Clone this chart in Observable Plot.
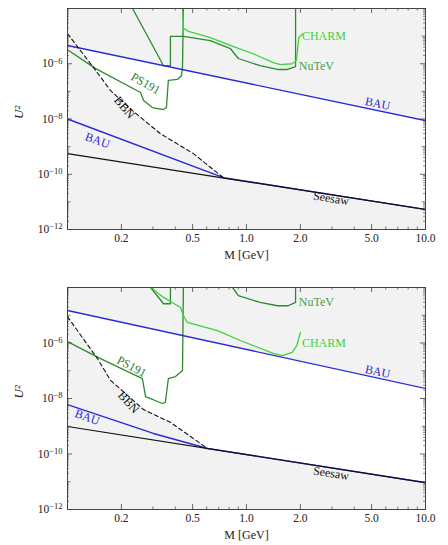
<!DOCTYPE html>
<html>
<head>
<meta charset="utf-8">
<script src="https://cdn.jsdelivr.net/npm/d3@7"></script>
<script src="https://cdn.jsdelivr.net/npm/@observablehq/plot@0.6"></script>
<style>
  html, body { margin: 0; padding: 0; background: white; }
  #chart svg { display: block; font-family: "Liberation Serif", "DejaVu Serif", serif; }
  #chart svg text { font-family: "Liberation Serif", "DejaVu Serif", serif; }
</style>
</head>
<body>
<div id="chart"></div>
<script>
// ---------- Panel A (top) ----------
const A_bauUp_M = [0.1, 10];
const A_bauUp_U = [4.6e-6, 8.7e-9];
const A_bauLo_M = [0.1, 0.743, 10];
const A_bauLo_U = [1.0e-8, 7.5e-11, 5.3e-12];
const A_seesaw_M = [0.1, 10];
const A_seesaw_U = [5.6e-10, 5.3e-12];
const A_bbn_M = [0.1, 0.14, 0.174, 0.231, 0.33, 0.505, 0.743];
const A_bbn_U = [1.23e-5, 7.2e-7, 1.07e-7, 2.0e-8, 2.95e-9, 5.6e-10, 7.5e-11];
const A_ps191_M = [0.1, 0.143, 0.256, 0.266, 0.298, 0.344, 0.357, 0.366, 0.411, 0.433, 0.439, 0.444];
const A_ps191_U = [3.2e-6, 6.8e-7, 9.1e-8, 4.7e-8, 2.6e-8, 2.2e-8, 2.6e-8, 2.5e-7, 2.7e-7, 3.7e-7, 7.2e-7, 1e-4];
const A_nutev_M = [0.231, 0.344, 0.376, 0.376, 0.444, 0.628, 0.814, 0.90, 1.19, 1.49, 1.69, 1.88, 1.88];
const A_nutev_U = [1e-4, 8.5e-7, 8.5e-7, 9.8e-6, 9.8e-6, 6.9e-6, 3.5e-6, 1.55e-6, 8.5e-7, 6.2e-7, 6.2e-7, 7.9e-7, 1e-4];
const A_charm_M = [0.439, 0.444, 0.474, 0.628, 0.847, 1.09, 1.41, 1.55, 1.80, 1.90, 1.96, 2.06];
const A_charm_U = [1e-4, 1.9e-5, 1.48e-5, 8.9e-6, 4.2e-6, 2.3e-6, 1.1e-6, 9.3e-7, 1.0e-6, 1.3e-6, 8.9e-6, 1.23e-5];

// ---------- Panel B (bottom) ----------
const B_bauUp_M = [0.1, 10];
const B_bauUp_U = [1.48e-5, 2.3e-8];
const B_bauLo_M = [0.1, 0.302, 0.606, 10];
const B_bauLo_U = [6.0e-9, 5.5e-10, 1.58e-10, 9.3e-12];
const B_seesaw_M = [0.1, 10];
const B_seesaw_U = [9.8e-10, 9.3e-12];
const B_bbn_M = [0.1, 0.147, 0.174, 0.266, 0.376, 0.606];
const B_bbn_U = [8.9e-6, 2.75e-7, 4.5e-8, 4.0e-9, 1.38e-9, 1.58e-10];
const B_ps191_M = [0.1, 0.153, 0.262, 0.273, 0.339, 0.352, 0.366, 0.401, 0.439, 0.444];
const B_ps191_U = [1.12e-6, 2.75e-7, 5.2e-8, 1.17e-8, 6.6e-9, 7.2e-9, 5.2e-8, 6.2e-8, 1.02e-7, 1e-4];
const B_diag_M = [0.291, 0.344, 0.376, 0.376];
const B_diag_U = [1e-4, 2.6e-5, 2.6e-5, 1e-4];
const B_nutev_M = [0.836, 0.90, 1.19, 1.49, 1.71, 1.88, 1.88];
const B_nutev_U = [1e-4, 5.1e-5, 2.9e-5, 2.2e-5, 2.2e-5, 2.9e-5, 1e-4];
const B_charm_M = [0.291, 0.344, 0.428, 0.444, 0.467, 0.689, 0.924, 1.41, 1.59, 1.80, 1.91, 2.0];
const B_charm_U = [1e-4, 4.4e-5, 1.9e-5, 9.8e-6, 5.5e-6, 2.8e-6, 1.23e-6, 4.2e-7, 3.5e-7, 4.6e-7, 8.1e-7, 2.4e-6];

// ---------- Ticks ----------
const xMajorTicks = [0.2, 0.5, 1, 2, 5, 10];
const xTickLabels = ["0.2", "0.5", "1.0", "2.0", "5.0", "10.0"];
const xMinorTicks = [0.3, 0.4, 0.6, 0.7, 0.8, 0.9, 3, 4, 6, 7, 8, 9];
const yLabelTicks = [1e-12, 1e-10, 1e-8, 1e-6];
const yTickExponents = ["−12", "−10", "−8", "−6"];
const yMidTicks = [1e-11, 1e-9, 1e-7, 1e-5];
const yMinorTicks = [];
for (let n = -12; n < -4; n++) for (let k = 2; k <= 9; k++) yMinorTicks.push(k * Math.pow(10, n));

// ---------- Labels ----------
const A_labels = [
  {text: "CHARM", M: 2.04, U: 9.8e-6, rot: 0, color: "#3cd23c", anchor: "start"},
  {text: "NuTeV", M: 1.96, U: 7.9e-7, rot: 0, color: "#46a046", anchor: "start"},
  {text: "PS191", M: 0.273, U: 1.9e-7, rot: 30, color: "#2e7d2e", anchor: "middle"},
  {text: "BBN", M: 0.208, U: 2.6e-8, rot: 50, color: "#111", anchor: "middle"},
  {text: "BAU", M: 5.4, U: 3.6e-8, rot: 12, color: "#2a2ad8", anchor: "middle"},
  {text: "BAU", M: 0.147, U: 1.66e-9, rot: 20, color: "#2a2ad8", anchor: "middle"},
  {text: "Seesaw", M: 2.97, U: 1.32e-11, rot: 9, color: "#111", anchor: "middle"}
];
const B_labels = [
  {text: "NuTeV", M: 1.96, U: 2.9e-5, rot: 0, color: "#46a046", anchor: "start"},
  {text: "CHARM", M: 2.04, U: 9.5e-7, rot: 0, color: "#3cd23c", anchor: "start"},
  {text: "PS191", M: 0.228, U: 1.4e-7, rot: 28, color: "#2e7d2e", anchor: "middle"},
  {text: "BBN", M: 0.219, U: 7.2e-9, rot: 48, color: "#111", anchor: "middle"},
  {text: "BAU", M: 5.4, U: 9.3e-8, rot: 12, color: "#2a2ad8", anchor: "middle"},
  {text: "BAU", M: 0.129, U: 2.1e-9, rot: 20, color: "#2a2ad8", anchor: "middle"},
  {text: "Seesaw", M: 2.97, U: 2.0e-11, rot: 9, color: "#111", anchor: "middle"}
];

const BLUE = "#2a2ad8", LIGHTG = "#3cd23c", DARKG = "#2e8a2e";
const FONT = "Liberation Serif";

function pts(M, U) { return M.map((m, i) => ({M: m, U: U[i]})); }

function interpLog(Ms, Us, m) {
  const lm = Math.log10(m);
  for (let i = 0; i < Ms.length - 1; i++) {
    const a = Math.log10(Ms[i]), b = Math.log10(Ms[i + 1]);
    if (lm >= a - 1e-12 && lm <= b + 1e-12) {
      const t = b === a ? 0 : (lm - a) / (b - a);
      return Math.log10(Us[i]) * (1 - t) + Math.log10(Us[i + 1]) * t;
    }
  }
  return NaN;
}

function whiteRegion(upM, upU, bbnM, bbnU, ssM, ssU) {
  const xs = [];
  for (let i = 0; i <= 400; i++) xs.push(Math.pow(10, -1 + 2 * i / 400));
  bbnM.forEach(m => xs.push(m));
  xs.sort((a, b) => a - b);
  return xs.map(m => {
    const up = interpLog(upM, upU, m);
    let lo = interpLog(ssM, ssU, m);
    const b = interpLog(bbnM, bbnU, m);
    if (!isNaN(b)) lo = Math.max(lo, b);
    lo = Math.min(lo, up);
    return {M: m, y1: Math.pow(10, lo), y2: Math.pow(10, up)};
  });
}

function panel(d, height, marginBottom) {
  const marginTop = 8, marginLeft = 67, marginRight = 23;
  const plotH = height - marginTop - marginBottom;
  const plotW = 448 - marginLeft - marginRight;
  const tk = "#444";
  const line = (M, U, o) => Plot.line(pts(M, U), {x: "M", y: "U", ...o});
  const startLabels = d.labels.filter(l => l.anchor === "start");
  const midLabels = d.labels.filter(l => l.anchor !== "start");
  const xLab = xMajorTicks.map((v, i) => ({M: v, t: xTickLabels[i]}));
  const yLab = yLabelTicks.map((v, i) => ({U: v, e: yTickExponents[i]}));
  const svg = Plot.plot({
    width: 448, height, marginTop, marginBottom, marginLeft, marginRight,
    x: {type: "log", domain: [0.1, 10], axis: null},
    y: {type: "log", domain: [1e-12, 1e-4], axis: null},
    style: {fontFamily: FONT, fontSize: "11.5px", background: "white", color: "#222"},
    marks: [
      Plot.frame({fill: "#f2f2f2"}),
      Plot.areaY(whiteRegion(d.bauUpM, d.bauUpU, d.bbnM, d.bbnU, d.ssM, d.ssU), {x: "M", y1: "y1", y2: "y2", fill: "white"}),
      ...d.greens.map(g => line(g.M, g.U, {stroke: g.color, strokeWidth: 1.3, clip: true})),
      line(d.bauUpM, d.bauUpU, {stroke: BLUE, strokeWidth: 1.4, clip: true}),
      line(d.bauLoM, d.bauLoU, {stroke: BLUE, strokeWidth: 1.4, clip: true}),
      line(d.bbnM, d.bbnU, {stroke: "#111", strokeWidth: 1.1, strokeDasharray: "4,3", clip: true}),
      line(d.ssM, d.ssU, {stroke: "#111", strokeWidth: 1.2, clip: true}),
      // ticks inside frame
      Plot.ruleX(xMajorTicks, {insetTop: plotH - 5, stroke: tk, strokeWidth: 0.8}),
      Plot.ruleX(xMajorTicks, {insetBottom: plotH - 5, stroke: tk, strokeWidth: 0.8}),
      Plot.ruleX(xMinorTicks, {insetTop: plotH - 2.5, stroke: tk, strokeWidth: 0.7}),
      Plot.ruleX(xMinorTicks, {insetBottom: plotH - 2.5, stroke: tk, strokeWidth: 0.7}),
      Plot.ruleY(yLabelTicks, {insetRight: plotW - 5, stroke: tk, strokeWidth: 0.8}),
      Plot.ruleY(yLabelTicks, {insetLeft: plotW - 5, stroke: tk, strokeWidth: 0.8}),
      Plot.ruleY(yMidTicks, {insetRight: plotW - 3.5, stroke: tk, strokeWidth: 0.7}),
      Plot.ruleY(yMidTicks, {insetLeft: plotW - 3.5, stroke: tk, strokeWidth: 0.7}),
      Plot.ruleY(yMinorTicks, {insetRight: plotW - 2, stroke: tk, strokeWidth: 0.6}),
      Plot.ruleY(yMinorTicks, {insetLeft: plotW - 2, stroke: tk, strokeWidth: 0.6}),
      Plot.frame({stroke: "#444", strokeWidth: 1}),
      // tick labels
      Plot.text(xLab, {x: "M", frameAnchor: "bottom", dy: 12, text: "t", fontSize: 11.5, fontFamily: FONT, fill: "#222"}),
      Plot.text(yLab, {y: "U", frameAnchor: "left", dx: -5, text: "e", textAnchor: "end", fontSize: 11.5, fontFamily: FONT, fill: "#222", className: "ylab"}),
      Plot.text(["M [GeV]"], {frameAnchor: "bottom", dy: 29, fontSize: 12, fontFamily: FONT, fill: "#222"}),
      Plot.text(["U²"], {frameAnchor: "left", dx: -49, rotate: -90, fontSize: 13, fontStyle: "italic", fontFamily: FONT, fill: "#222"}),
      Plot.text(startLabels, {x: "M", y: "U", text: "text", rotate: "rot", fill: "color", textAnchor: "start", fontSize: 12, fontFamily: FONT}),
      Plot.text(midLabels, {x: "M", y: "U", text: "text", rotate: "rot", fill: "color", textAnchor: "middle", fontSize: 12, fontFamily: FONT})
    ]
  });
  // y tick labels: 10 with superscript exponent
  const ns = "http://www.w3.org/2000/svg";
  svg.querySelectorAll('g.ylab text, .ylab text').forEach(t => {
    const e = t.textContent;
    t.textContent = "";
    const a = document.createElementNS(ns, "tspan");
    a.textContent = "10";
    const b = document.createElementNS(ns, "tspan");
    b.setAttribute("dy", "-0.45em");
    b.setAttribute("font-size", "8.5");
    b.textContent = e;
    t.append(a, b);
  });
  return svg;
}

const panelA = {
  bauUpM: A_bauUp_M, bauUpU: A_bauUp_U, bauLoM: A_bauLo_M, bauLoU: A_bauLo_U,
  ssM: A_seesaw_M, ssU: A_seesaw_U, bbnM: A_bbn_M, bbnU: A_bbn_U,
  greens: [
    {M: A_ps191_M, U: A_ps191_U, color: DARKG},
    {M: A_nutev_M, U: A_nutev_U, color: DARKG},
    {M: A_charm_M, U: A_charm_U, color: LIGHTG}
  ],
  labels: A_labels
};
const panelB = {
  bauUpM: B_bauUp_M, bauUpU: B_bauUp_U, bauLoM: B_bauLo_M, bauLoU: B_bauLo_U,
  ssM: B_seesaw_M, ssU: B_seesaw_U, bbnM: B_bbn_M, bbnU: B_bbn_U,
  greens: [
    {M: B_ps191_M, U: B_ps191_U, color: DARKG},
    {M: B_diag_M, U: B_diag_U, color: DARKG},
    {M: B_nutev_M, U: B_nutev_U, color: DARKG},
    {M: B_charm_M, U: B_charm_U, color: LIGHTG}
  ],
  labels: B_labels
};

const root = document.getElementById("chart");
root.append(panel(panelA, 279, 50));
root.append(panel(panelB, 266, 36));
</script>
</body>
</html>
